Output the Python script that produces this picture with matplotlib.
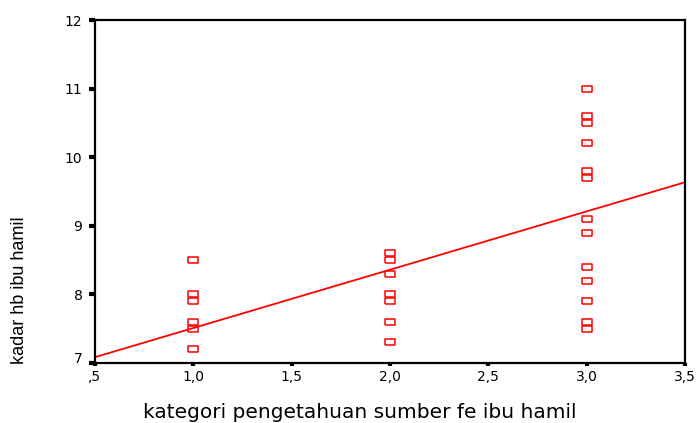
import matplotlib
matplotlib.use("Agg")
import matplotlib.pyplot as plt
import matplotlib.transforms as mtransforms

# Data
x_cat1 = [1.0] * 6
y_cat1 = [8.5, 8.0, 7.9, 7.6, 7.5, 7.2]
x_cat2 = [2.0] * 7
y_cat2 = [8.6, 8.5, 8.3, 8.0, 7.9, 7.6, 7.3]
x_cat3 = [3.0] * 13
y_cat3 = [11.0, 10.6, 10.5, 10.2, 9.8, 9.7, 9.1, 8.9, 8.4, 8.2, 7.9, 7.6, 7.5]

fit_x = [0.5, 3.5]
fit_y = [7.085, 9.635]

xticks = [0.5, 1.0, 1.5, 2.0, 2.5, 3.0, 3.5]
xticklabels = [",5", "1,0", "1,5", "2,0", "2,5", "3,0", "3,5"]
yticks = [7, 8, 9, 10, 11, 12]
yticklabels = ["7", "8", "9", "10", "11", "12"]

xlabel = "kategori pengetahuan sumber fe ibu hamil"
ylabel = "kadar hb ibu hamil"

plt.rcParams["font.family"] = ["DejaVu Sans"]

W, H = 699, 423
fig = plt.figure(figsize=(W / 100, H / 100), dpi=100)
ax = fig.add_axes([95 / W, 1 - 363 / H, (685 - 95) / W, (363 - 20) / H])

xs = x_cat1 + x_cat2 + x_cat3
ys = y_cat1 + y_cat2 + y_cat3
rect = [(-1.6, -1), (1.6, -1), (1.6, 1), (-1.6, 1), (-1.6, -1)]
ax.plot(xs, ys, linestyle="none", marker=rect, markersize=6.5,
        markerfacecolor="none", markeredgecolor="#ff0000", markeredgewidth=1.1)
ax.plot(fit_x, fit_y, color="#ff0000", linewidth=1.3)

ax.set_xlim(0.5, 3.5)
ax.set_ylim(7, 12)
ax.set_xticks(xticks)
ax.set_xticklabels(xticklabels)
ax.set_yticks(yticks)
ax.set_yticklabels(yticklabels)
ax.tick_params(axis="both", direction="out", length=4, width=3, color="black",
               labelsize=10)
ax.tick_params(axis="y", pad=5)
ax.tick_params(axis="x", pad=3, length=2)
for s in ax.spines.values():
    s.set_linewidth(1.6)
    s.set_color("black")

# shift the bottom y label up a bit (as in the reference)
lab0 = ax.get_yticklabels()[0]
lab0.set_transform(lab0.get_transform() + mtransforms.ScaledTranslation(0, 6 / 100, fig.dpi_scale_trans))

# x axis title
fig.text(360 / W, 1 - 418 / H, xlabel, ha="center", va="baseline", fontsize=14.5,
         family=["DejaVu Sans"])

# y axis title
fig.text(20 / W, 1 - 364 / H, ylabel, rotation=90, ha="center", va="bottom",
         fontsize=13, family=["Liberation Sans", "DejaVu Sans"])

fig.savefig("out.png", dpi=100)
